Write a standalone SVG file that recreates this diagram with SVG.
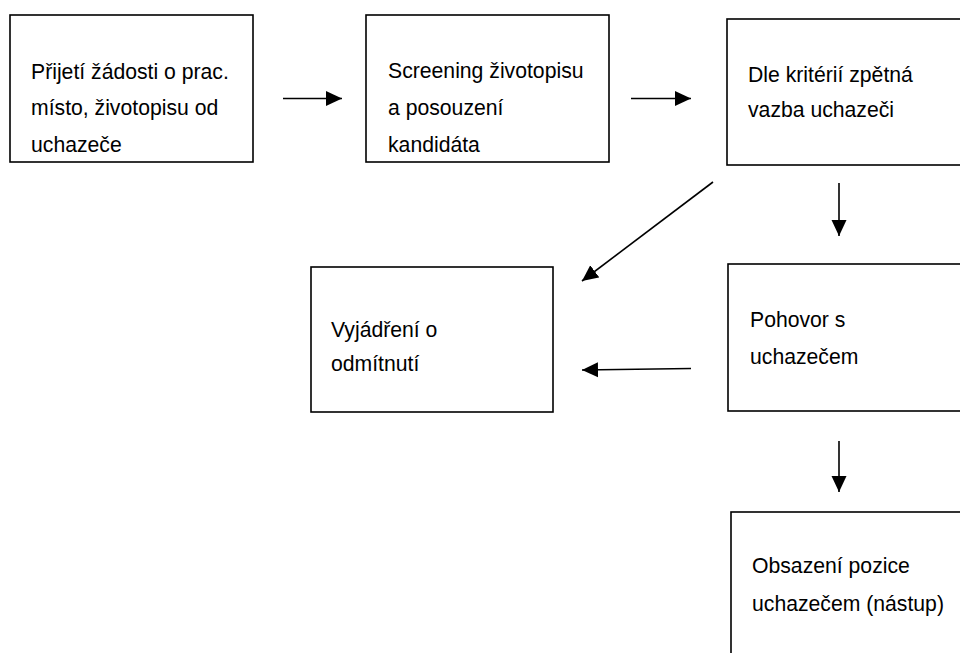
<svg xmlns="http://www.w3.org/2000/svg" width="960" height="653" viewBox="0 0 960 653">
<defs>
<style>
.box{fill:#fff;stroke:#000;stroke-width:1.6}
.t{font-family:"Liberation Sans",Arial,sans-serif;font-size:21.2px;fill:#000}
.c{stroke:#000;stroke-width:1.6;fill:none}
</style>
<marker id="ah" markerUnits="userSpaceOnUse" markerWidth="17" markerHeight="16" refX="16" refY="8" orient="auto">
<path d="M0,0.5 L16,8 L0,15.5 Z" fill="#000"/>
</marker>
</defs>
<rect width="960" height="653" fill="#fff"/>
<g id="n1">
<rect class="box" x="10" y="15" width="243" height="147"/>
<text class="t" x="31" y="79">Přijetí žádosti o prac.</text>
<text class="t" x="31" y="115">místo, životopisu od</text>
<text class="t" x="31" y="152">uchazeče</text>
</g>
<g id="n2">
<rect class="box" x="366" y="15" width="243" height="147"/>
<text class="t" x="388" y="78">Screening životopisu</text>
<text class="t" x="388" y="115">a posouzení</text>
<text class="t" x="388" y="152">kandidáta</text>
</g>
<g id="n3">
<rect class="box" x="727" y="19" width="245" height="146"/>
<text class="t" x="748" y="82">Dle kritérií zpětná</text>
<text class="t" x="748" y="117">vazba uchazeči</text>
</g>
<g id="n4">
<rect class="box" x="311" y="267" width="242" height="145"/>
<text class="t" x="331" y="337">Vyjádření o</text>
<text class="t" x="331" y="371">odmítnutí</text>
</g>
<g id="n5">
<rect class="box" x="728" y="264" width="245" height="147"/>
<text class="t" x="750" y="327">Pohovor s</text>
<text class="t" x="750" y="364">uchazečem</text>
</g>
<g id="n6">
<rect class="box" x="731" y="512" width="245" height="160"/>
<text class="t" x="752" y="573">Obsazení pozice</text>
<text class="t" x="752" y="611">uchazečem (nástup)</text>
</g>
<g id="connectors">
<line class="c" x1="283" y1="98.5" x2="342" y2="98.5" marker-end="url(#ah)"/>
<line class="c" x1="631" y1="98.5" x2="691" y2="98.5" marker-end="url(#ah)"/>
<line class="c" x1="839" y1="183" x2="839" y2="236" marker-end="url(#ah)"/>
<line class="c" x1="713" y1="182" x2="582" y2="281" marker-end="url(#ah)"/>
<line class="c" x1="691" y1="368.5" x2="582" y2="370" marker-end="url(#ah)"/>
<line class="c" x1="839" y1="441" x2="839" y2="492" marker-end="url(#ah)"/>
</g>
</svg>
